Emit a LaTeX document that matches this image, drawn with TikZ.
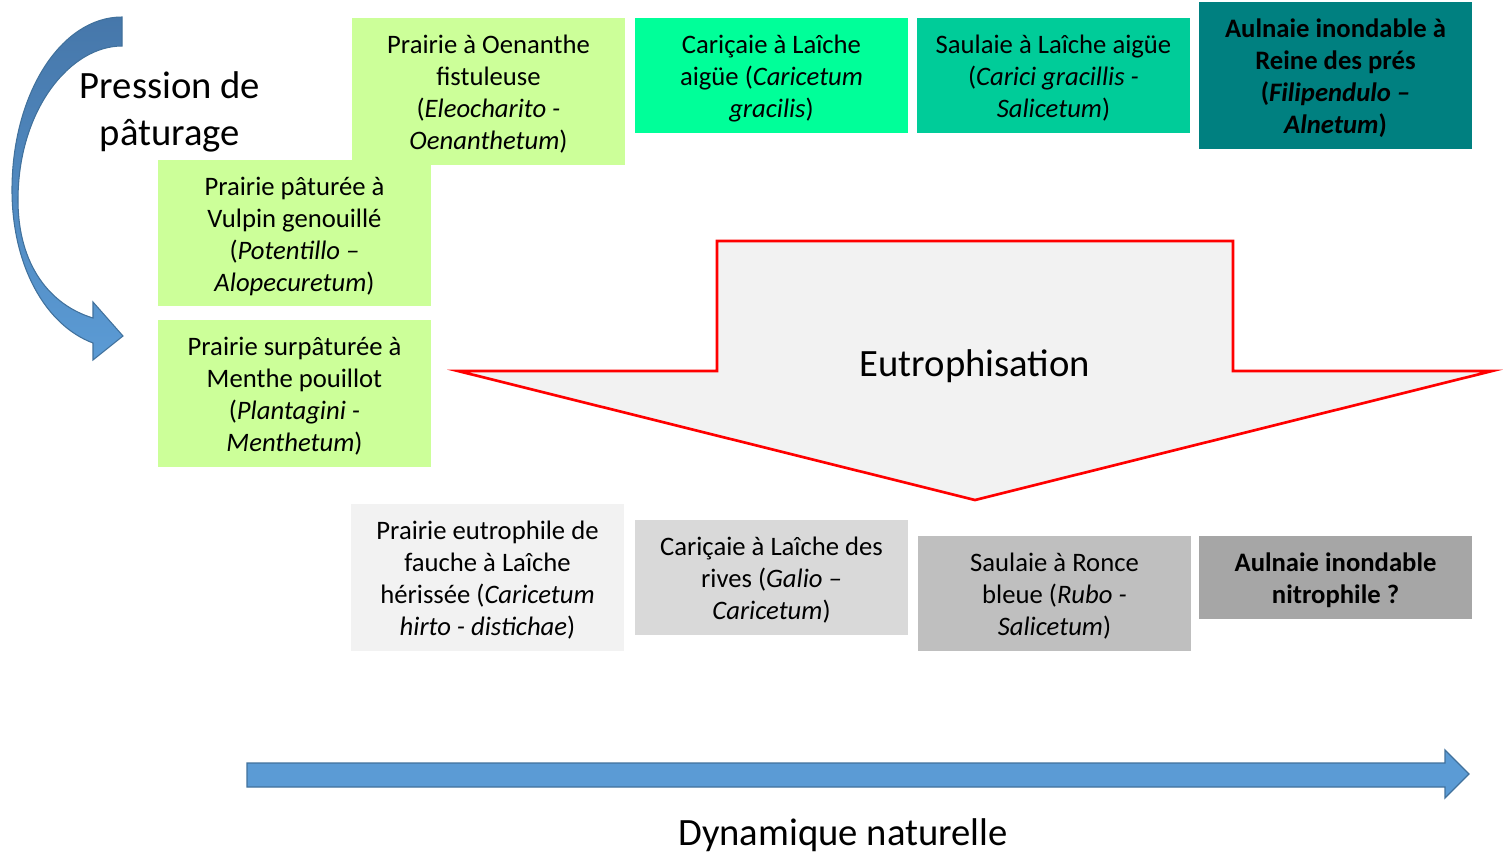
\documentclass[tikz,border=0pt]{standalone}
\usepackage{fontspec}
\setmainfont{Carlito}
\definecolor{lgreen}{HTML}{CCFF99}
\definecolor{bgreen}{HTML}{00FF99}
\definecolor{sgreen}{HTML}{00CC99}
\definecolor{tealc}{HTML}{008080}
\definecolor{g1}{HTML}{F2F2F2}
\definecolor{g2}{HTML}{D9D9D9}
\definecolor{g3}{HTML}{BFBFBF}
\definecolor{g4}{HTML}{A6A6A6}
\definecolor{blue1}{HTML}{5B9BD5}
\definecolor{blue2}{HTML}{41719C}
\definecolor{blue0}{HTML}{4677AA}
\newcommand\tst{\rule{0pt}{21pt}}
\newcommand\bst{\rule[-6pt]{0pt}{6pt}}
\begin{document}
\begin{tikzpicture}[x=0.75pt,y=-0.75pt,
  box/.style={draw=none, inner sep=0pt, align=center, text=black,
    font=\fontsize{20}{24}\selectfont, minimum width=204.75pt},
  bigtext/.style={font=\fontsize{29}{35}\selectfont, align=center, inner sep=0pt}]
\useasboundingbox (0,0) rectangle (1510,854);

% Eutrophisation arrow
\draw[red, line width=2pt, fill=g1, line join=miter]
  (717,241) -- (1233,241) -- (1233,371) -- (1492,371) -- (975,500)
  -- (458,371) -- (717,371) -- cycle;
\node[bigtext, anchor=base] (eutro) at (975,376) {Eutrophisation};

% top row
\node[box, fill=lgreen, minimum height=110.25pt] (oen) at (488.5,91.5)
  {\tst Prairie à Oenanthe\\fistuleuse\\(\textit{Eleocharito -}\\\textit{Oenanthetum})\bst};
\node[box, fill=bgreen, minimum height=86.25pt] (cgr) at (771.5,75.5)
  {\tst Cariçaie à Laîche\\aigüe (\textit{Caricetum}\\\textit{gracilis})\bst};
\node[box, fill=sgreen, minimum height=86.25pt] (sal) at (1053.5,75.5)
  {\tst Saulaie à Laîche aigüe\\(\textit{Carici gracillis -}\\\textit{Salicetum})\bst};
\node[box, fill=tealc, minimum height=110.25pt, font=\fontsize{20}{24}\selectfont\bfseries] (aul) at (1335.5,75.5)
  {\tst Aulnaie inondable à\\Reine des prés\\(\textit{Filipendulo –}\\\textit{Alnetum})\bst};

% left column
\node[box, fill=lgreen, minimum height=109.5pt] (vul) at (294.5,233)
  {\tst Prairie pâturée à\\Vulpin genouillé\\(\textit{Potentillo –}\\\textit{Alopecuretum})\bst};
\node[box, fill=lgreen, minimum height=110.25pt] (men) at (294.5,393.5)
  {\tst Prairie surpâturée à\\Menthe pouillot\\(\textit{Plantagini -}\\\textit{Menthetum})\bst};

% bottom row
\node[box, fill=g1, minimum height=110.25pt] (eut) at (487.5,577.5)
  {\tst Prairie eutrophile de\\fauche à Laîche\\hérissée (\textit{Caricetum}\\\textit{hirto - distichae})\bst};
\node[box, fill=g2, minimum height=86.25pt] (riv) at (771.5,577.5)
  {\tst Cariçaie à Laîche des\\rives (\textit{Galio –}\\\textit{Caricetum})\bst};
\node[box, fill=g3, minimum height=86.25pt] (ron) at (1054.5,593.5)
  {\tst Saulaie à Ronce\\bleue (\textit{Rubo -}\\\textit{Salicetum})\bst};
\node[box, fill=g4, minimum height=62.25pt, font=\fontsize{20}{24}\selectfont\bfseries] (nit) at (1335.5,577.5)
  {\tst Aulnaie inondable\\nitrophile ?\bst};

% curved arrow (grazing pressure)
\shadedraw[top color=blue0, bottom color=blue1, draw=blue2, line width=0.8pt, line join=miter]
  (122,17) .. controls (61,17) and (12,94) .. (12,190)
  .. controls (12,265) and (45,325) .. (93,343)
  -- (93,360) -- (123,336) -- (93,302) -- (93,318)
  .. controls (50,305) and (18,265) .. (18,200)
  .. controls (18,110) and (70,46) .. (122,46) -- cycle;
\node[bigtext] (press) at (170,112) {Pression de\\pâturage};

% natural dynamics arrow
\coordinate (dynstart) at (247,775);
\coordinate (dyntip) at (1469,774);
\draw[fill=blue1, draw=blue2, line width=1pt, line join=miter]
  (247,763) -- (1445,763) -- (1445,750) -- (dyntip) -- (1445,798)
  -- (1445,787) -- (247,787) -- cycle;
\node[bigtext, anchor=base] (dyn) at (843,845) {Dynamique naturelle};
\end{tikzpicture}
\end{document}
